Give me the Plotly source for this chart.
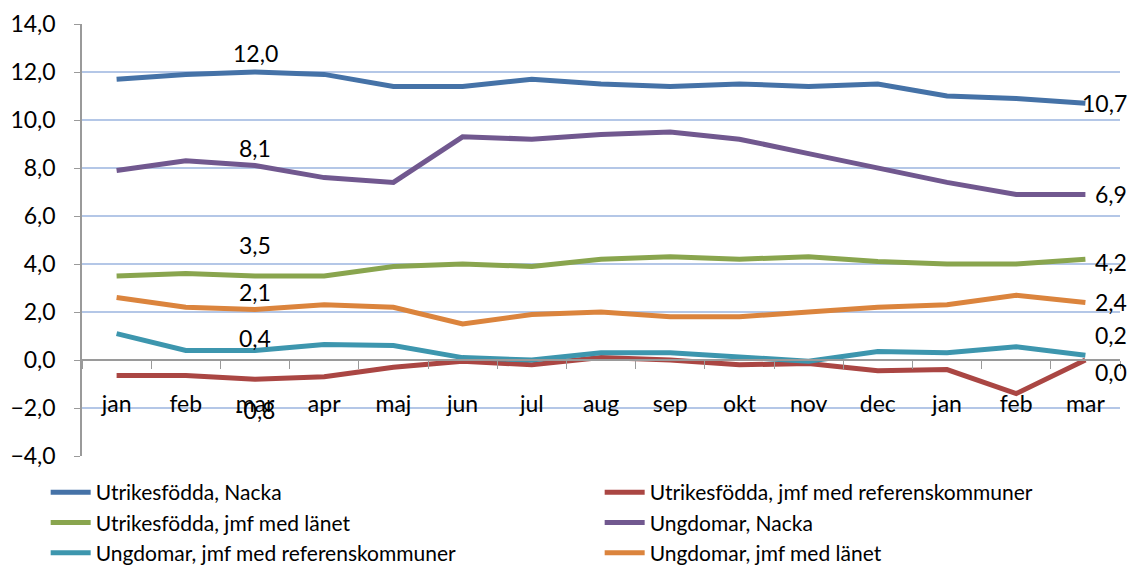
import plotly.graph_objects as go

months = ["jan", "feb", "mar", "apr", "maj", "jun", "jul", "aug", "sep", "okt",
          "nov", "dec", "jan", "feb", "mar"]

utr_nacka = [11.7, 11.9, 12.0, 11.9, 11.4, 11.4, 11.7, 11.5, 11.4, 11.5, 11.4, 11.5, 11.0, 10.9, 10.7]
utr_ref = [-0.65, -0.65, -0.8, -0.7, -0.3, -0.05, -0.2, 0.1, 0.0, -0.2, -0.15, -0.45, -0.4, -1.4, 0.0]
utr_lan = [3.5, 3.6, 3.5, 3.5, 3.9, 4.0, 3.9, 4.2, 4.3, 4.2, 4.3, 4.1, 4.0, 4.0, 4.2]
ung_nacka = [7.9, 8.3, 8.1, 7.6, 7.4, 9.3, 9.2, 9.4, 9.5, 9.2, 8.6, 8.0, 7.4, 6.9, 6.9]
ung_ref = [1.1, 0.4, 0.4, 0.65, 0.6, 0.1, 0.0, 0.3, 0.3, 0.15, -0.05, 0.35, 0.3, 0.55, 0.2]
ung_lan = [2.6, 2.2, 2.1, 2.3, 2.2, 1.5, 1.9, 2.0, 1.8, 1.8, 2.0, 2.2, 2.3, 2.7, 2.4]

series = [
    ("Utrikesfödda, Nacka", utr_nacka, "#4572A7"),
    ("Utrikesfödda, jmf med referenskommuner", utr_ref, "#AA4643"),
    ("Utrikesfödda, jmf med länet", utr_lan, "#89A54E"),
    ("Ungdomar, Nacka", ung_nacka, "#71588F"),
    ("Ungdomar, jmf med referenskommuner", ung_ref, "#3D96AE"),
    ("Ungdomar, jmf med länet", ung_lan, "#DB843D"),
]

x = list(range(len(months)))
FONT = "Lato"

fig = go.Figure()
for name, vals, col in series:
    fig.add_trace(go.Scatter(x=x, y=vals, mode="lines", name=name,
                             line=dict(color=col, width=5)))

def fmt(v):
    return f"{v:.1f}".replace(".", ",")

# data labels at third month (index 2): (values, yshift)
mid_labels = [(utr_nacka, 19), (ung_nacka, 18), (utr_lan, 31), (ung_lan, 18), (ung_ref, 12), (utr_ref, -31)]
for vals, ys in mid_labels:
    fig.add_annotation(x=2, y=vals[2], text=fmt(vals[2]), showarrow=False,
                       yshift=ys, font=dict(family=FONT, size=23, color="black"))

# end labels (index 14): (values, xshift, yshift)
end_labels = [(utr_nacka, -5, 0), (ung_nacka, 8, 0), (utr_lan, 8, -3), (ung_lan, 8, 0),
              (ung_ref, 8, 20), (utr_ref, 8, -12)]
for vals, xs, ys in end_labels:
    fig.add_annotation(x=14, y=vals[14], text=fmt(vals[14]), showarrow=False,
                       xanchor="left", xshift=xs, yshift=ys,
                       font=dict(family=FONT, size=23, color="black"))

fig.update_layout(
    width=1129, height=565,
    margin=dict(l=82, r=9, t=24, b=109, autoexpand=False),
    paper_bgcolor="white", plot_bgcolor="white",
    separators=", ",
    font=dict(family=FONT, size=21, color="black"),
    showlegend=True,
    legend=dict(orientation="h", x=-0.035, y=-0.037, xanchor="left", yanchor="top",
                entrywidth=499, entrywidthmode="pixels",
                font=dict(family=FONT, size=21, color="black"),
                tracegroupgap=0, itemwidth=40),
    xaxis=dict(range=[-0.5, 14.5], tickmode="array", tickvals=x, ticktext=months,
               anchor="free", position=4 / 18, showgrid=False, zeroline=False,
               automargin=False,
               showline=True, linecolor="#9a9a9a", linewidth=1.5,
               ticks="outside", ticklen=0, ticklabelstandoff=24,
               tickfont=dict(family=FONT, size=23, color="black"),
               minor=dict(tickmode="array", tickvals=[i + 0.5 for i in range(-1, 15)],
                          ticks="outside", ticklen=8, tickcolor="#9a9a9a", showgrid=False)),
    yaxis=dict(range=[-4, 14], tickmode="linear", tick0=-4, dtick=2, tickformat=".1f",
               showgrid=True, gridcolor="#b4c7e7", gridwidth=1.5, zeroline=False,
               automargin=False,
               showline=True, linecolor="#9a9a9a", linewidth=1.5,
               ticks="outside", ticklen=6, tickcolor="#9a9a9a", ticklabelstandoff=14,
               tickfont=dict(family=FONT, size=23, color="black")),
)

fig.write_html("out.html", config={"displayModeBar": False},
               post_script="document.body.style.margin='0';document.body.style.overflow='hidden';")
